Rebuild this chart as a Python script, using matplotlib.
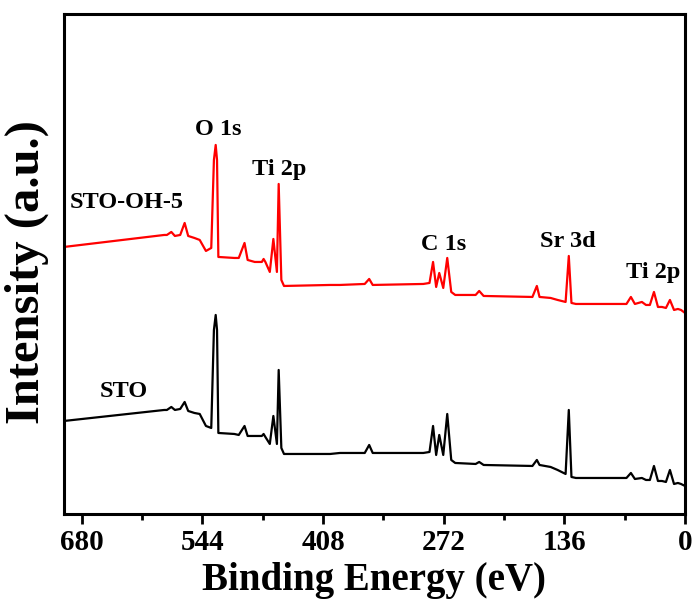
import matplotlib.pyplot as plt

# binding energy (eV) / intensity (a.u.)
be_oh5 = [700, 587, 584, 579, 575, 569, 564, 560, 553, 547, 540,
          534, 531, 529, 527.5, 526, 508, 503, 496.5, 493, 485, 477, 475, 473,
          468, 464, 460, 458, 455, 452, 400, 389, 361, 356, 352,
          295, 288, 284, 280.5, 277, 272.5, 268, 263.5, 259, 236, 232, 227,
          172, 167, 164, 151.5, 143.6, 134.6, 131, 128, 123, 66, 61, 56.5,
          48.6, 44, 39.6, 35, 30.5, 26, 21.5, 17, 12.4, 8, 4.5, 0]
int_oh5 = [267, 279, 279, 282, 278, 279, 291, 278, 276, 274, 263,
           266, 354, 369, 354, 257, 256, 256, 271, 254, 252, 252, 255, 252,
           242, 275, 242, 330, 234, 228, 229, 229, 230, 235, 229,
           230, 231, 252, 227, 241, 226, 256, 222, 219, 219, 223, 218,
           217, 228, 217, 216, 214, 212, 258, 211, 210, 210, 217, 210,
           212, 209, 209, 222, 207, 207, 206, 214, 204, 205, 204, 201]

be_sto = [700, 587, 584, 579, 575, 569, 564, 560, 553, 547, 540,
          534, 531, 529, 527.5, 526, 508, 503, 496.5, 493, 485, 477, 475, 473,
          468, 464, 460, 458, 455, 452, 400, 389, 361, 356, 352,
          295, 288, 284, 280.5, 277, 272.5, 268, 263.5, 259, 236, 232, 227,
          172, 167, 164, 151.5, 143.6, 134.6, 131, 128, 123, 66, 61, 56.5,
          48.6, 44, 39.6, 35, 30.5, 26, 21.5, 17, 12.4, 8, 4.5, 0]
int_sto = [93, 104, 104, 107, 104, 105, 112, 103, 101, 100, 88,
           86, 184, 199, 184, 81, 80, 79, 88, 78, 78, 78, 80, 77,
           70, 98, 70, 144, 66, 60, 60, 61, 61, 69, 61,
           61, 62, 88, 59, 79, 59, 100, 54, 51, 50, 52, 49,
           48, 54, 49, 47, 44, 40, 104, 37, 36, 36, 41, 35,
           36, 34, 34, 48, 33, 33, 32, 44, 30, 31, 30, 28]

xticks = [680, 544, 408, 272, 136, 0]

# peak labels: (text, eV, intensity)
peak_labels = [("O 1s", 526, 379), ("Ti 2p", 457, 339), ("C 1s", 272.6, 264),
               ("Sr 3d", 132, 267), ("Ti 2p", 35.6, 236)]
sample_labels = [("STO-OH-5", 629, 306), ("STO", 633, 117)]

plt.rcParams['font.family'] = ['Liberation Serif', 'DejaVu Serif']
plt.rcParams['font.weight'] = 'bold'

fig = plt.figure(figsize=(6.97, 6.01), dpi=100)
ax = fig.add_axes([0.0918, 0.1448, 0.891, 0.832])

ax.plot(be_oh5, int_oh5, color='#ff0000', lw=1.6)
ax.plot(be_sto, int_sto, color='black', lw=1.6)

for txt, x, y in peak_labels + sample_labels:
    ax.text(x, y, txt, ha='center', va='baseline', fontsize=17.5, fontweight='bold')

ax.set_xlim(700, 0)
ax.set_ylim(0, 500)
ax.set_xticks(xticks)
ax.set_xticks([612, 476, 340, 204, 68], minor=True)
ax.set_yticks([])
ax.tick_params(axis='x', which='major', direction='out', length=7, width=2,
               labelsize=21, pad=4)
ax.tick_params(axis='x', which='minor', direction='out', length=4, width=2)
for lab in ax.get_xticklabels():
    lab.set_fontweight('bold')
for sp in ax.spines.values():
    sp.set_linewidth(2.2)

ax.set_xlabel("Binding Energy (eV)", fontsize=28, fontweight='bold', labelpad=4)
ax.set_ylabel("Intensity (a.u.)", fontsize=35, fontweight='bold')
ax.yaxis.set_label_coords(-0.024, 0.483)

fig.savefig("out.png", dpi=100)
